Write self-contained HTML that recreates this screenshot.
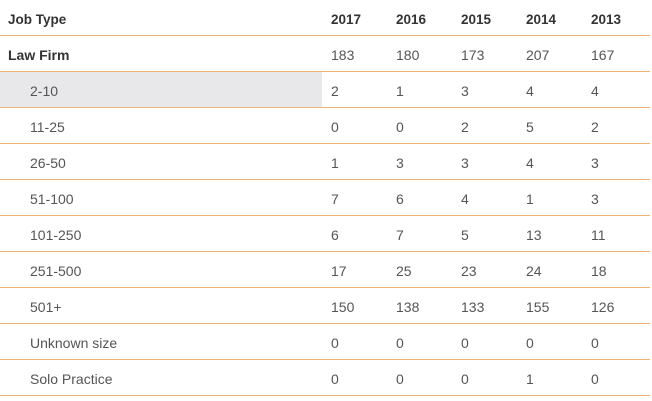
<!DOCTYPE html>
<html><head><meta charset="utf-8"><style>
body{margin:0;width:652px;height:401px;background:#fff;font-family:"Liberation Sans",sans-serif;position:relative;overflow:hidden}
.row{position:absolute;left:0;width:650px;height:36px;border-bottom:1px solid #eab47a;box-sizing:border-box}
.c{position:absolute;top:2px;line-height:35px;font-size:14px;color:#555}
.h .c{font-weight:bold;color:#333;font-size:13.5px}
.b .c.l{font-weight:bold;color:#333}
.l{left:8px}.s{left:30px}
.hl{position:absolute;left:0;top:0;width:322px;height:35px;background:#e8e8ea}
</style></head><body>
<script>
const years=["2017","2016","2015","2014","2013"];
const labels=["Law Firm","2-10","11-25","26-50","51-100","101-250","251-500","501+","Unknown size","Solo Practice"];
const values=[[183,180,173,207,167],[2,1,3,4,4],[0,0,2,5,2],[1,3,3,4,3],[7,6,4,1,3],[6,7,5,13,11],[17,25,23,24,18],[150,138,133,155,126],[0,0,0,0,0],[0,0,0,1,0]];
const xs=[331,396,461,526,591];
function mk(y,cls,name){const r=document.createElement('div');r.className='row '+cls;r.style.top=y+'px';


document.body.appendChild(r);return r;}
function cell(r,txt,x,cls,name){const c=document.createElement('div');c.className='c '+(cls||'');if(x!=null)c.style.left=x+'px';c.textContent=txt;


r.appendChild(c);}
const h=mk(0,'h','header-row');
cell(h,'Job Type',null,'l','job-type-header');
years.forEach((y,i)=>cell(h,y,xs[i],'','year-header-'+y));
labels.forEach((lab,ri)=>{
 const r=mk(36+36*ri,ri==0?'b':'','row-'+lab.toLowerCase().replace(/[^a-z0-9]+/g,'-'));
 if(ri==1){const g=document.createElement('div');g.className='hl';
 
 
 r.appendChild(g);}
 cell(r,lab,null,ri==0?'l':'s','row-label');
 values[ri].forEach((v,i)=>cell(r,String(v),xs[i],'','value-'+years[i]));
});
</script>
</body></html>
